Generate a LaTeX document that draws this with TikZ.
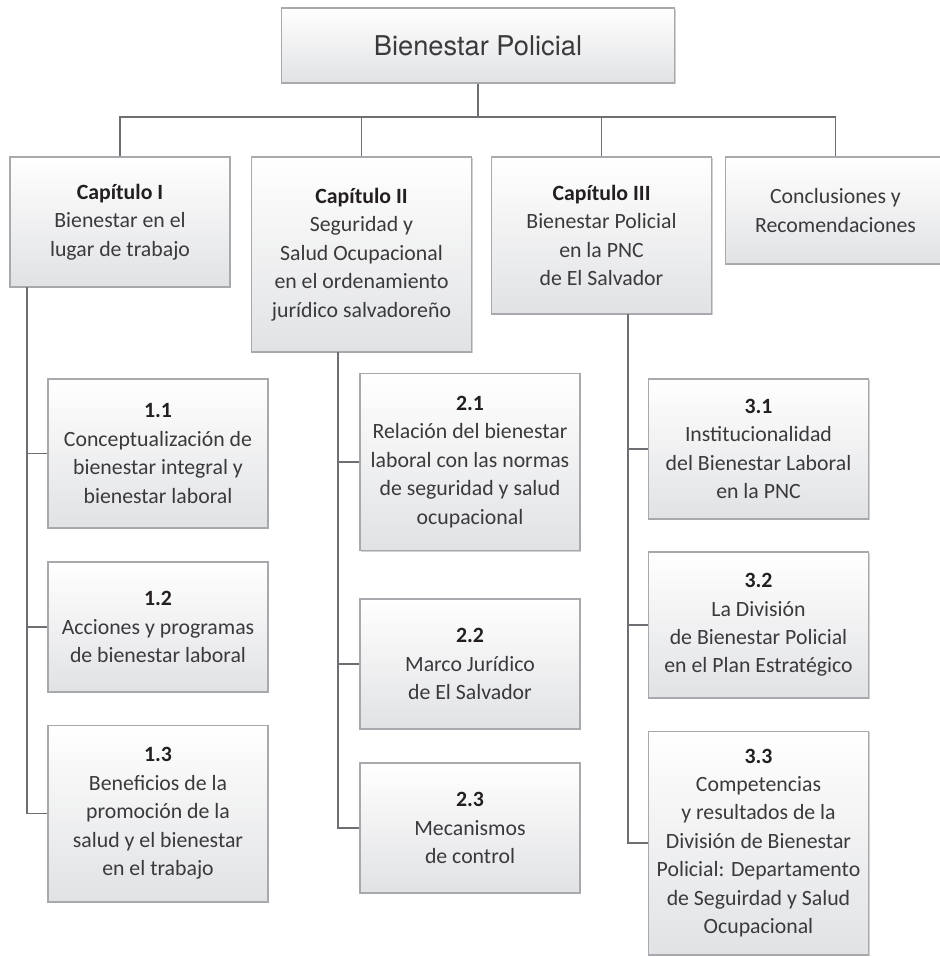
\documentclass[tikz,border=0pt]{standalone}
\usepackage{fontspec}
\setmainfont{Carlito}
\newfontfamily\titlefont{TeX Gyre Heros}
\usetikzlibrary{positioning,shadows}
\definecolor{linegray}{HTML}{6D6E71}
\definecolor{boxline}{HTML}{A7A9AC}
\definecolor{boxfill}{HTML}{E1E2E4}
\definecolor{textgray}{HTML}{3A3A3C}
\definecolor{textdark}{HTML}{231F20}
\newcommand{\boxhead}[1]{{\bfseries\color{textdark}#1}}

\begin{document}
\begin{tikzpicture}[x=0.02cm, y=-0.02cm, font=\fontsize{12.4}{16.2}\selectfont, box/.style={draw=boxline, line width=0.6pt, top color=white, bottom color=boxfill, text=textgray, align=center, minimum width=4.4cm, drop shadow={shadow xshift=0.8pt, shadow yshift=-0.8pt, opacity=0.18, fill=black}}, link/.style={draw=linegray, line width=0.9pt}]
\useasboundingbox (0,0) rectangle (940,957);
% top level
\node[box, minimum width=7.88cm, minimum height=1.5cm, font=\titlefont\fontsize{15.5}{18}\selectfont] (top) at (478,45.5) {Bienestar Policial};
\node[box, minimum height=2.6cm] (c1) at (120,222) {\boxhead{Capítulo I}\\Bienestar en el\\lugar de trabajo};
\node[box, minimum height=3.9cm] (c2) at (361.5,254.5) {\boxhead{Capítulo II}\\Seguridad y\\Salud Ocupacional\\en el ordenamiento\\jurídico salvadoreño};
\node[box, minimum height=3.14cm] (c3) at (601.5,235.5) {\boxhead{Capítulo III}\\Bienestar Policial\\en la PNC\\de El Salvador};
\node[box, minimum height=2.14cm] (c4) at (835.5,210.5) {Conclusiones y\\Recomendaciones};
% chapter I
\node[box, minimum height=2.98cm] (s11) at (158,453.5) {\boxhead{1.1}\\Conceptualización de\\bienestar integral y\\bienestar laboral};
\node[box, minimum height=2.6cm] (s12) at (158,627) {\boxhead{1.2}\\Acciones y programas\\de bienestar laboral};
\node[box, minimum height=3.54cm] (s13) at (158,813.5) {\boxhead{1.3}\\Beneficios de la\\promoción de la\\salud y el bienestar\\en el trabajo};
% chapter II
\node[box, minimum height=3.54cm] (s21) at (470,462) {\boxhead{2.1}\\Relación del bienestar\\laboral con las normas\\de seguridad y salud\\ocupacional};
\node[box, minimum height=2.6cm] (s22) at (470,664) {\boxhead{2.2}\\Marco Jurídico\\de El Salvador};
\node[box, minimum height=2.6cm] (s23) at (470,828) {\boxhead{2.3}\\Mecanismos\\de control};
% chapter III
\node[box, minimum height=2.8cm] (s31) at (758.5,449) {\boxhead{3.1}\\Institucionalidad\\del Bienestar Laboral\\en la PNC};
\node[box, minimum height=2.92cm] (s32) at (758.5,625) {\boxhead{3.2}\\La División\\de Bienestar Policial\\en el Plan Estratégico};
\node[box, minimum height=4.48cm] (s33) at (758.5,843) {\boxhead{3.3}\\Competencias\\y resultados de la\\División de Bienestar\\Policial: Departamento\\de Seguirdad y Salud\\Ocupacional};
% connectors
\coordinate (bar) at (478,117);
\draw[link] (top) -- (bar);
\draw[link] (c1) |- (bar) -| (c4);
\draw[link] (c2) -- (c2 |- bar);
\draw[link] (c3) -- (c3 |- bar);
\coordinate (k1) at (27,287);
\coordinate (k2) at (338,352);
\coordinate (k3) at (628,314);
\draw[link] (k1) |- (s13); \draw[link] (k1 |- s11) -- (s11); \draw[link] (k1 |- s12) -- (s12);
\draw[link] (k2) |- (s23); \draw[link] (k2 |- s21) -- (s21); \draw[link] (k2 |- s22) -- (s22);
\draw[link] (k3) |- (s33); \draw[link] (k3 |- s31) -- (s31); \draw[link] (k3 |- s32) -- (s32);
\end{tikzpicture}
\end{document}
